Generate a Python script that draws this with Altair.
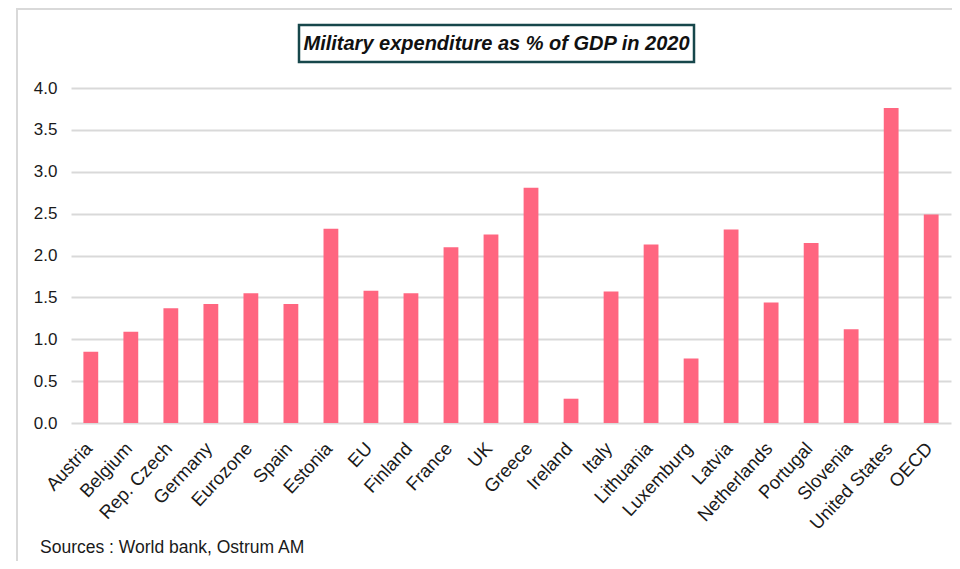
import altair as alt
import pandas as pd

countries = ["Austria", "Belgium", "Rep. Czech", "Germany", "Eurozone", "Spain",
             "Estonia", "EU", "Finland", "France", "UK", "Greece", "Ireland",
             "Italy", "Lithuania", "Luxemburg", "Latvia", "Netherlands",
             "Portugal", "Slovenia", "United States", "OECD"]
values = [0.85, 1.09, 1.37, 1.42, 1.55, 1.42, 2.32, 1.58, 1.55, 2.10, 2.25,
          2.81, 0.29, 1.57, 2.13, 0.77, 2.31, 1.44, 2.15, 1.12, 3.76, 2.49]
y_ticks = [0.0, 0.5, 1.0, 1.5, 2.0, 2.5, 3.0, 3.5, 4.0]

title_text = "Military expenditure as % of GDP in 2020"
source_text = "Sources : World bank, Ostrum AM"

df = pd.DataFrame({"country": countries, "value": values})
one = pd.DataFrame({"k": [0]})

W, H = 880, 335
FONT = "Liberation Sans"

bars = alt.Chart(df).mark_bar(color="#ff6680").encode(
    x=alt.X("country:N", sort=countries,
            scale=alt.Scale(paddingInner=0.63, paddingOuter=0.31),
            axis=alt.Axis(title=None, labelAngle=-47, labelFontSize=18.5,
                          labelFont=FONT, labelColor="#1a1a1a", ticks=False,
                          domain=False, labelPadding=22, labelOffset=-2,
                          labelOverlap=False)),
    y=alt.Y("value:Q", scale=alt.Scale(domain=[0, 4], nice=False),
            axis=alt.Axis(title=None, values=y_ticks, format=".1f",
                          labelFontSize=17, labelFont=FONT, labelColor="#1a1a1a",
                          ticks=False, domain=False, labelPadding=14,
                          gridColor="#d9d9d9", gridWidth=2)),
)

frame = alt.Chart(one).mark_rect(fill=None, stroke="#d9d9d9", strokeWidth=2, clip=False).encode(
    x=alt.value(-54), x2=alt.value(W + 20), y=alt.value(-79), y2=alt.value(H + 200)
)

title_box = alt.Chart(one).mark_rect(fill="white", stroke="#17474b", strokeWidth=2.5, clip=False).encode(
    x=alt.value(228), x2=alt.value(623), y=alt.value(-63), y2=alt.value(-26)
)

title = alt.Chart(one).mark_text(text=title_text, font=FONT, fontSize=20,
                                 fontWeight="bold", fontStyle="italic",
                                 color="#111111", baseline="middle", align="center").encode(
    x=alt.value(425.5), y=alt.value(-44)
)

source = alt.Chart(one).mark_text(text=source_text, font=FONT, fontSize=17.5,
                                  color="#1a1a1a", baseline="alphabetic", align="left").encode(
    x=alt.value(-31), y=alt.value(465)
)

chart = alt.layer(frame, bars, title_box, title, source).properties(
    width=W, height=H,
    autosize=alt.AutoSizeParams(type="none"),
    padding={"left": 63, "top": 80, "right": 1, "bottom": 138},
).configure_view(stroke=None)

chart.save("out.html", embed_options={"renderer": "svg", "actions": False})
